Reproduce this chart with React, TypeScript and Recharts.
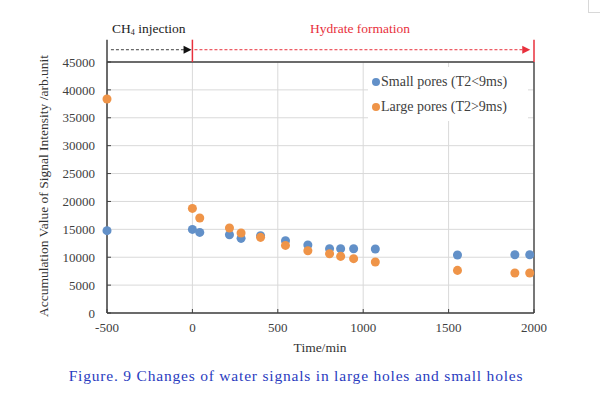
import {
  ScatterChart,
  Scatter,
  XAxis,
  YAxis,
  ZAxis,
  CartesianGrid,
  ReferenceLine,
  ReferenceDot,
  Legend,
} from "recharts";

// time (min) of each NMR measurement
const times = [-500, 0, 43, 217, 285, 399, 545, 676, 803, 868, 944, 1071, 1552, 1888, 1975];
// accumulated signal intensity (arb.unit)
const smallPores = [14760, 14990, 14450, 14040, 13380, 13860, 12960, 12190, 11530, 11530, 11530, 11480, 10400, 10450, 10450];
const largePores = [38370, 18750, 17030, 15240, 14340, 13560, 12120, 11170, 10630, 10150, 9740, 9140, 7640, 7170, 7170];

const seriesNames = ["Small pores (T2<9ms)", "Large pores (T2>9ms)"];
const xTicks = [-500, 0, 500, 1000, 1500, 2000];
const yTicks = [0, 5000, 10000, 15000, 20000, 25000, 30000, 35000, 40000, 45000];

const smallData = times.map((t, i) => ({ t, v: smallPores[i] }));
const largeData = times.map((t, i) => ({ t, v: largePores[i] }));

const BLUE = "#6290c8";
const ORANGE = "#ef9448";
const RED = "#e8303c";
const AXIS = "#404040";
const FONT = "'Liberation Serif', 'Times New Roman', Times, serif";

const arrowHead = (color: string) => (p: any) => (
  <path
    d={`M${p.cx - 8},${p.cy - 4} L${p.cx},${p.cy} L${p.cx - 8},${p.cy + 4} Z`}
    fill={color}
  />
);

function LegendBox(props: any) {
  const items = [...(props.payload || [])].sort(
    (a: any, b: any) => seriesNames.indexOf(a.value) - seriesNames.indexOf(b.value),
  );
  return (
    <div
      style={{
        background: "white",
        padding: "2px 4px",
        fontFamily: FONT,
        fontSize: 14,
        color: AXIS,
        lineHeight: "25px",
      }}
    >
      {items.map((it: any) => (
        <div key={it.value} style={{ display: "flex", alignItems: "center", whiteSpace: "nowrap" }}>
          <span
            style={{
              width: 8,
              height: 8,
              borderRadius: 4,
              background: it.color,
              marginRight: 1,
              display: "inline-block",
            }}
          />
          {it.value}
        </div>
      ))}
    </div>
  );
}

export default function App() {
  return (
    <div
      style={{
        position: "absolute",
        left: 0,
        top: 0,
        width: 600,
        height: 402,
        background: "white",
        fontFamily: FONT,
      }}
    >
      {/* page corner mark */}
      <div
        style={{
          position: "absolute",
          left: 588,
          top: 0,
          width: 12,
          height: 12,
          borderLeft: "1px solid #d8d8d8",
          borderBottom: "1px solid #d8d8d8",
        }}
      />
      <ScatterChart
        width={600}
        height={402}
        margin={{ top: 62, right: 66, bottom: 59, left: 47 }}
      >
        <CartesianGrid stroke="#d9d9d9" strokeWidth={1} />
        <XAxis
          type="number"
          dataKey="t"
          domain={[-500, 2000]}
          ticks={xTicks}
          height={30}
          tickSize={-4}
          tickMargin={14}
          tickLine={{ stroke: AXIS }}
          axisLine={{ stroke: AXIS, strokeWidth: 1.5 }}
          tick={{ fill: AXIS, fontSize: 13, fontFamily: FONT }}
        />
        <YAxis
          type="number"
          dataKey="v"
          domain={[0, 45000]}
          ticks={yTicks}
          width={60}
          tickSize={-4}
          tickMargin={16}
          tickLine={{ stroke: AXIS }}
          axisLine={{ stroke: AXIS, strokeWidth: 1.5 }}
          tick={{ fill: AXIS, fontSize: 13, fontFamily: FONT }}
        />
        <ZAxis range={[72, 72]} />
        {/* plot frame */}
        <ReferenceLine y={45000} stroke={AXIS} strokeWidth={1.5} />
        <ReferenceLine x={2000} stroke="#505050" strokeWidth={1.5} />
        {/* stage markers above the plot */}
        <ReferenceLine
          segment={[{ x: -500, y: 45000 }, { x: -500, y: 49000 }]}
          stroke={AXIS}
          strokeWidth={1.5}
          ifOverflow="visible"
        />
        <ReferenceLine
          segment={[{ x: 0, y: 45000 }, { x: 0, y: 49000 }]}
          stroke={RED}
          strokeWidth={1.5}
          ifOverflow="visible"
        />
        <ReferenceLine
          segment={[{ x: 2000, y: 45000 }, { x: 2000, y: 49000 }]}
          stroke={RED}
          strokeWidth={1.5}
          ifOverflow="visible"
        />
        <ReferenceLine
          segment={[{ x: -477, y: 47200 }, { x: -40, y: 47200 }]}
          stroke={AXIS}
          strokeDasharray="3 2"
          strokeWidth={1}
          ifOverflow="visible"
        />
        <ReferenceLine
          segment={[{ x: 12, y: 47200 }, { x: 1935, y: 47200 }]}
          stroke={RED}
          strokeDasharray="3 2"
          strokeWidth={1}
          ifOverflow="visible"
        />
        <ReferenceDot x={-5} y={47200} ifOverflow="visible" shape={arrowHead("#111")} />
        <ReferenceDot x={1978} y={47200} ifOverflow="visible" shape={arrowHead(RED)} />
        <Legend
          layout="horizontal"
          verticalAlign="middle"
          align="center"
          wrapperStyle={{ top: 67, left: 368, width: 160 }}
          content={LegendBox}
        />
        <Scatter
          name={seriesNames[0]}
          data={smallData}
          fill={BLUE}
          isAnimationActive={false}
        />
        <Scatter
          name={seriesNames[1]}
          data={largeData}
          fill={ORANGE}
          isAnimationActive={false}
        />
      </ScatterChart>

      {/* annotations and axis titles */}
      <div
        style={{
          position: "absolute",
          left: 112,
          top: 21,
          fontSize: 13.5,
          color: "#222",
          whiteSpace: "nowrap",
        }}
      >
        CH<sub style={{ fontSize: 8, verticalAlign: "-2px" }}>4</sub> injection
      </div>
      <div
        style={{
          position: "absolute",
          left: 310,
          top: 21,
          fontSize: 13.5,
          color: RED,
          whiteSpace: "nowrap",
        }}
      >
        Hydrate formation
      </div>
      <div
        style={{
          position: "absolute",
          left: 0,
          width: 640,
          top: 340,
          textAlign: "center",
          fontSize: 13.5,
          color: "#333",
        }}
      >
        Time/min
      </div>
      <div
        style={{
          position: "absolute",
          left: 44,
          top: 186,
          transform: "translate(-50%, -50%) rotate(-90deg)",
          fontSize: 13.5,
          color: "#333",
          whiteSpace: "nowrap",
        }}
      >
        Accumulation Value of Signal Intensity /arb.unit
      </div>
      <div
        style={{
          position: "absolute",
          left: 0,
          width: 592,
          top: 367,
          textAlign: "center",
          fontSize: 15.5,
          letterSpacing: 0.8,
          color: "#2a3cc0",
          whiteSpace: "nowrap",
        }}
      >
        Figure. 9 Changes of water signals in large holes and small holes
      </div>
    </div>
  );
}
